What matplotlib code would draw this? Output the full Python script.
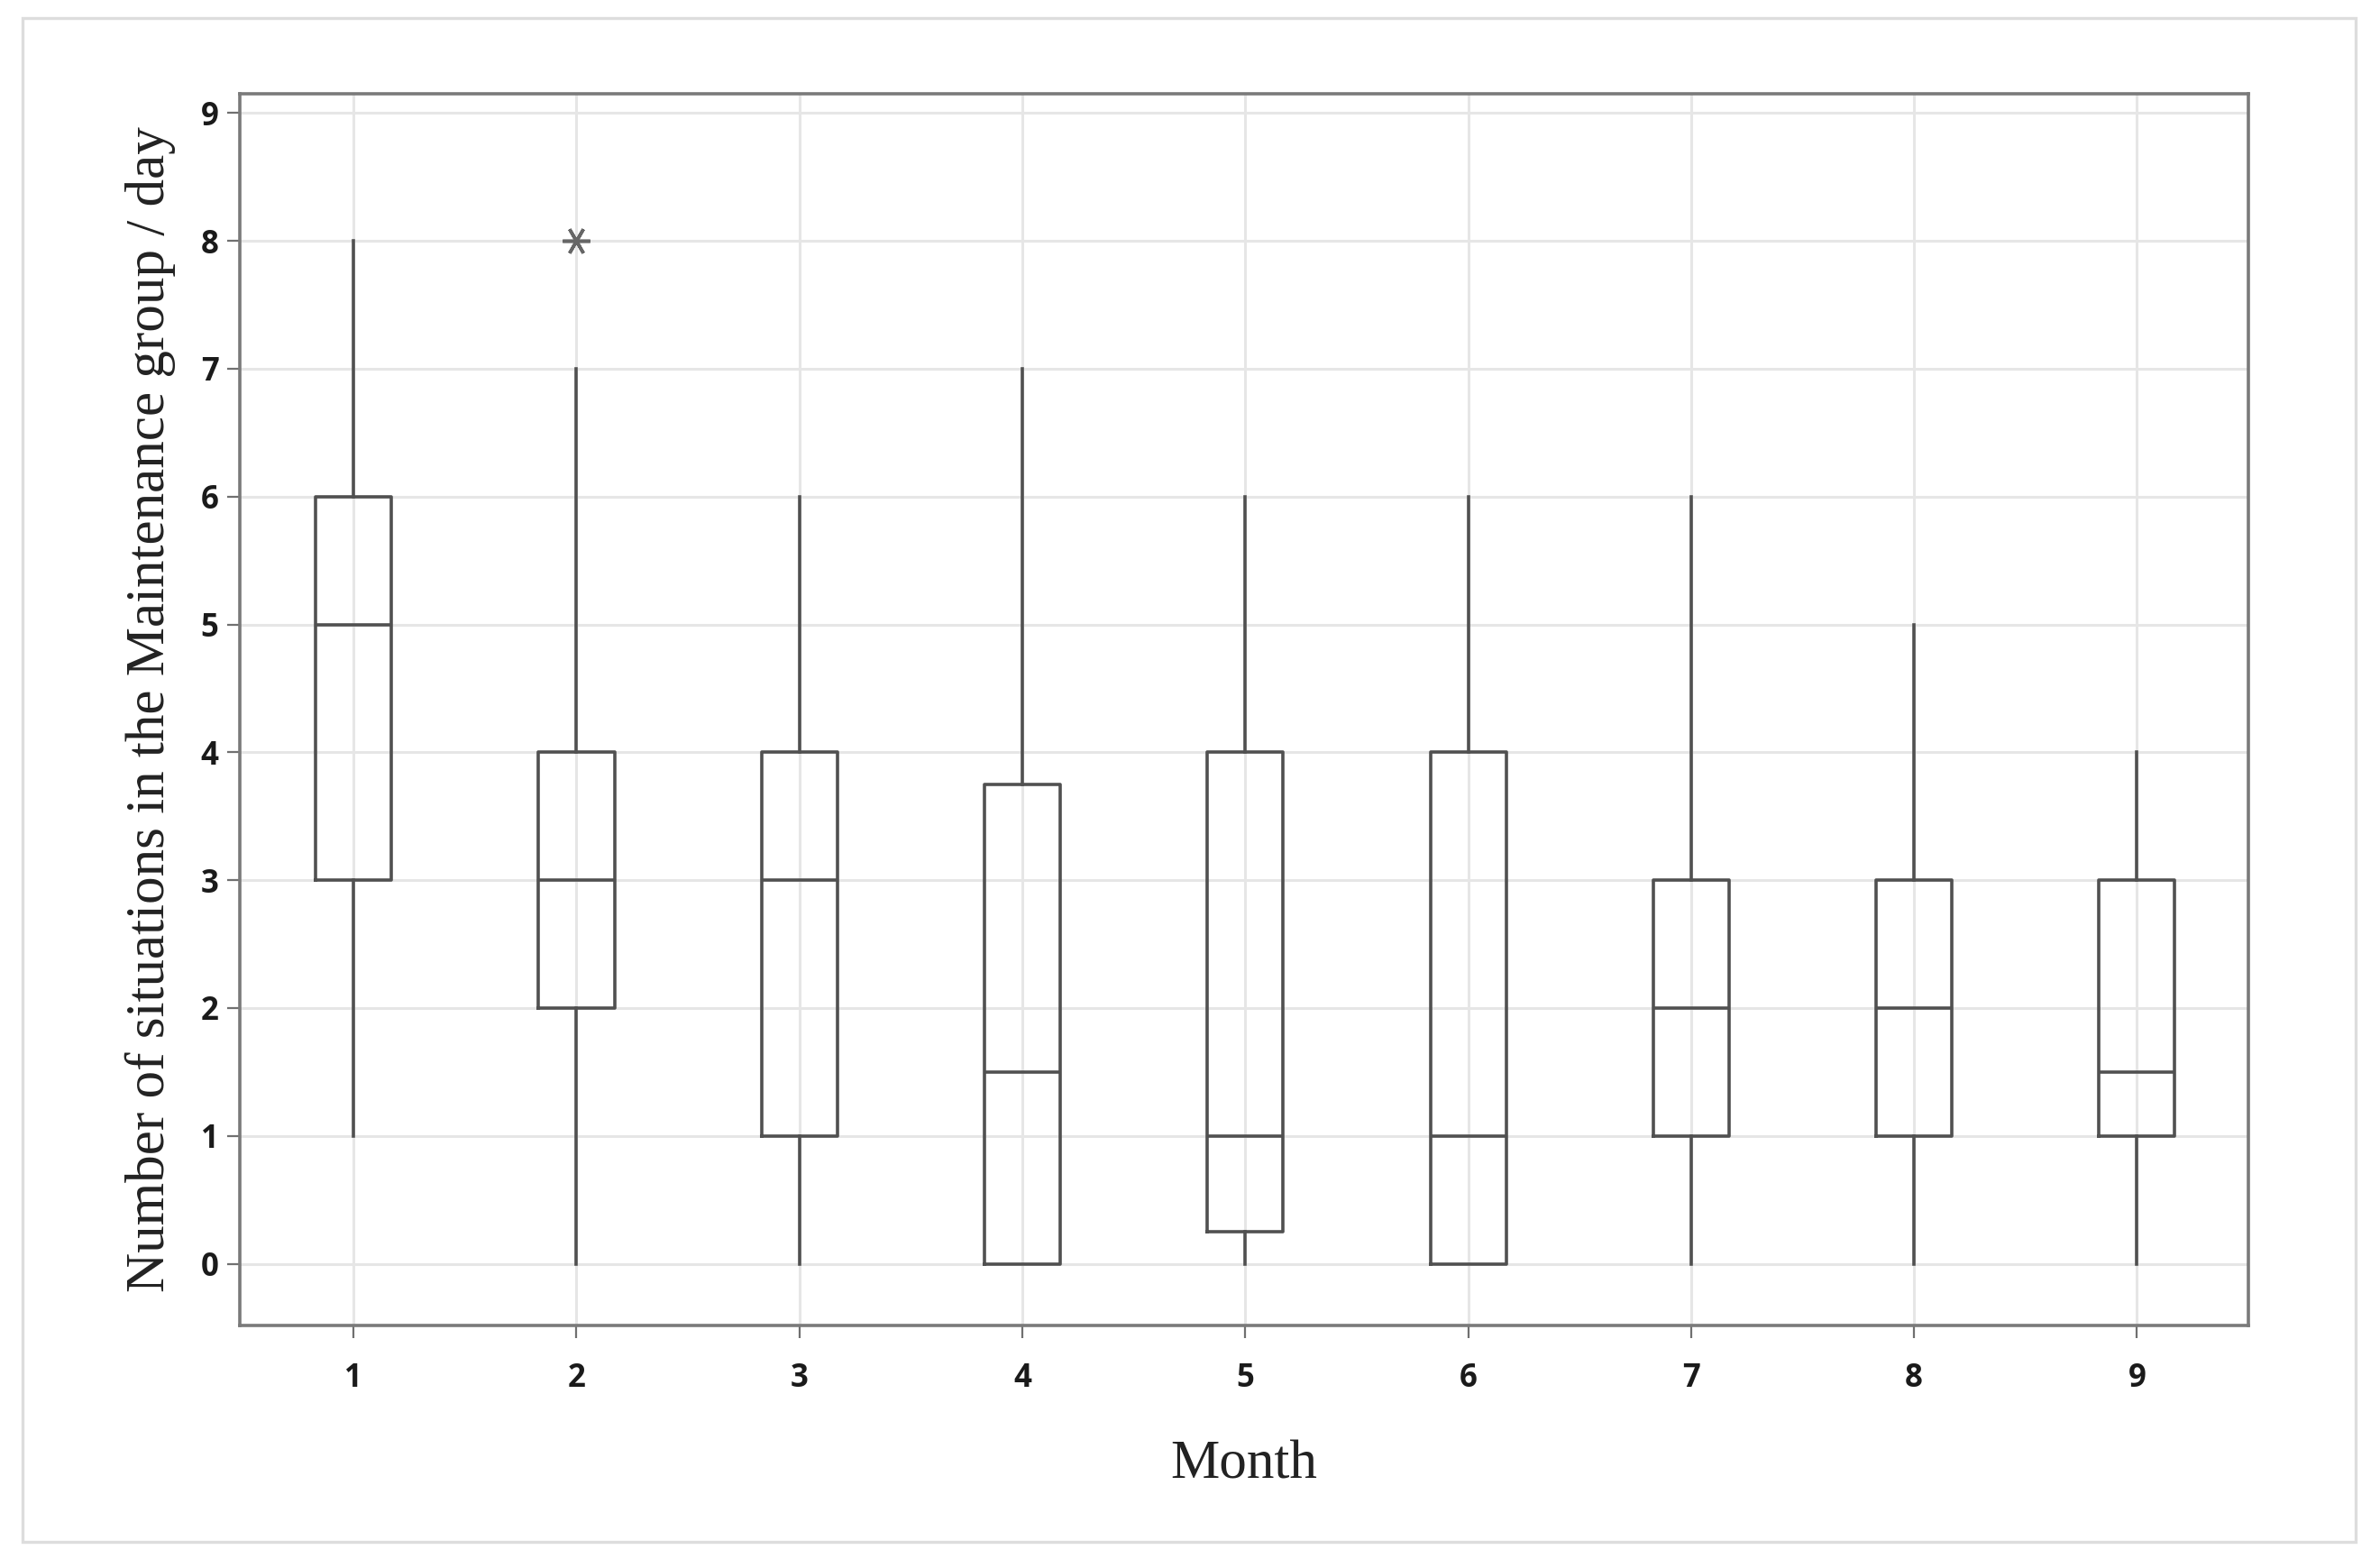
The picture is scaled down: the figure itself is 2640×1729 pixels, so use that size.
import matplotlib
matplotlib.use("Agg")
import matplotlib.pyplot as plt
from matplotlib.patches import Rectangle

# box plot summary per month
months = [1, 2, 3, 4, 5, 6, 7, 8, 9]
whisker_low = [1, 0, 0, 0, 0, 0, 0, 0, 0]
q1 = [3, 2, 1, 0, 0.25, 0, 1, 1, 1]
medians = [5, 3, 3, 1.5, 1, 1, 2, 2, 1.5]
q3 = [6, 4, 4, 3.75, 4, 4, 3, 3, 3]
whisker_high = [8, 7, 6, 7, 6, 6, 6, 5, 4]
outliers = [[], [8], [], [], [], [], [], [], []]

line_col = "#505050"

stats = []
for i in range(len(months)):
    stats.append({
        "label": str(months[i]),
        "whislo": whisker_low[i],
        "q1": q1[i],
        "med": medians[i],
        "q3": q3[i],
        "whishi": whisker_high[i],
        "fliers": outliers[i],
    })

fig = plt.figure(figsize=(13.2, 8.645), dpi=200)
ax = fig.add_axes([0.1008, 0.150, 0.8439, 0.7898])

# light frame around the whole figure
fig.patches.append(Rectangle((0.0095, 0.011), 0.9803, 0.9774, transform=fig.transFigure,
                             fill=False, edgecolor="#dddddd", linewidth=1.2))

ax.bxp(stats, positions=months, widths=0.34, showcaps=False,
       boxprops=dict(color=line_col, linewidth=1.3),
       whiskerprops=dict(color=line_col, linewidth=1.3),
       medianprops=dict(color=line_col, linewidth=1.3),
       flierprops=dict(marker=(6, 2, 90), markersize=11, markeredgecolor="#666666",
                       markeredgewidth=1.3))

ax.set_xlim(0.49, 9.5)
ax.set_ylim(-0.48, 9.15)
ax.set_yticks(range(0, 10))
ax.set_xticks(months)
ax.set_xticklabels([str(m) for m in months])

ax.grid(True, color="#e6e6e6", linewidth=1.1)
ax.set_axisbelow(True)
for s in ax.spines.values():
    s.set_color("#7a7a7a")
    s.set_linewidth(1.3)

ax.tick_params(axis="both", colors="#707070", length=5, width=0.8,
               labelcolor="#1a1a1a", labelsize=12.5)
for lab in ax.get_xticklabels() + ax.get_yticklabels():
    lab.set_fontfamily("Open Sans")
    lab.set_fontweight("bold")
ax.tick_params(axis="x", pad=10)

ax.set_xlabel("Month", fontfamily="Liberation Serif", fontsize=22, color="#222222", labelpad=18)
ax.set_ylabel("Number of situations in the Maintenance group / day",
              fontfamily="Liberation Serif", fontsize=22, color="#222222", labelpad=10)

fig.savefig("out.png", dpi=200)
